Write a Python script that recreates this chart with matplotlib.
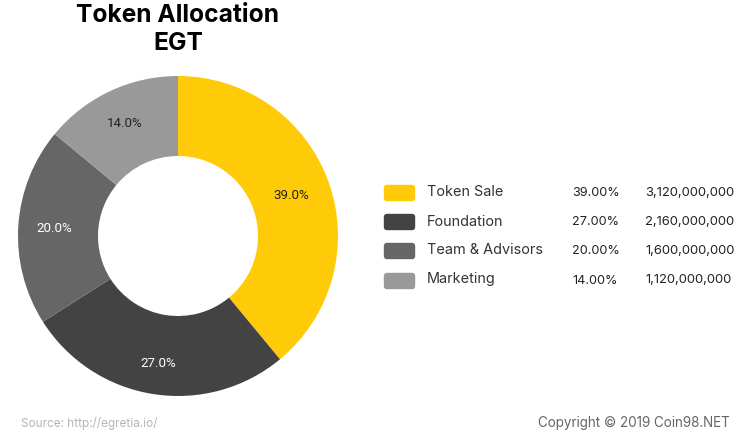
import math
import matplotlib
matplotlib.use("Agg")
import matplotlib.pyplot as plt
from matplotlib.patches import FancyBboxPatch

labels = ["Token Sale", "Foundation", "Team & Advisors", "Marketing"]
shares = [39.0, 27.0, 20.0, 14.0]
pct_text = ["39.00%", "27.00%", "20.00%", "14.00%"]
amounts = ["3,120,000,000", "2,160,000,000", "1,600,000,000", "1,120,000,000"]
colors = ["#FFCB08", "#434343", "#666666", "#999999"]
label_colors = ["#222222", "#ffffff", "#ffffff", "#222222"]
label_radii = [0.755, 0.805, 0.775, 0.78]

W, H = 745, 437
plt.rcParams["font.family"] = ["Inter", "DejaVu Sans"]
fig = plt.figure(figsize=(W/100, H/100), dpi=100, facecolor="white")
bg = fig.add_axes([0, 0, 1, 1])
bg.set_xlim(0, W); bg.set_ylim(H, 0); bg.axis("off")

cx, cy, r = 178, 236, 160
ax = fig.add_axes([(cx-r)/W, 1-(cy+r)/H, 2*r/W, 2*r/H])
ax.pie(shares, colors=colors, startangle=90, counterclock=False, radius=1,
       wedgeprops=dict(width=0.5, linewidth=0))
ax.set_xlim(-1, 1); ax.set_ylim(-1, 1)
acc = 0
for s, c, lr in zip(shares, label_colors, label_radii):
    mid = math.radians(90 - (acc + s/2) * 3.6)
    ax.text(lr*math.cos(mid), lr*math.sin(mid), f"{s:.1f}%", ha="center", va="center",
            color=c, fontsize=9.6, fontfamily="Roboto")
    acc += s

bg.text(178, 15, "Token Allocation", ha="center", va="center", fontsize=17.7, fontweight="bold", color="black")
bg.text(178, 43, "EGT", ha="center", va="center", fontsize=17.7, fontweight="bold", color="black")

ys = [193, 222, 251, 281]
tys = [192, 221.5, 250, 279.5]
for y, ty, lab, p, a, c in zip(ys, tys, labels, pct_text, amounts, colors):
    bg.add_patch(FancyBboxPatch((384.5, y-7.5), 30, 15, boxstyle="round,pad=0,rounding_size=2.5", fc=c, ec=c, lw=1))
    bg.text(427, ty, lab, ha="left", va="center", fontsize=10.4, color="#333333")
    bg.text(572, y, p, ha="left", va="center", fontsize=9.1, color="#222222")
    bg.text(645, y-1 if a.startswith("1,120") else y, a, ha="left", va="center", fontsize=9.4, color="#222222")

bg.text(21, 423, "Source: http://egretia.io/", ha="left", va="center", fontsize=8.5, color="#B5B5B5")
bg.text(730, 423, "Copyright © 2019 Coin98.NET", ha="right", va="center", fontsize=9.7, color="#666666")
fig.savefig("out.png", dpi=100)
